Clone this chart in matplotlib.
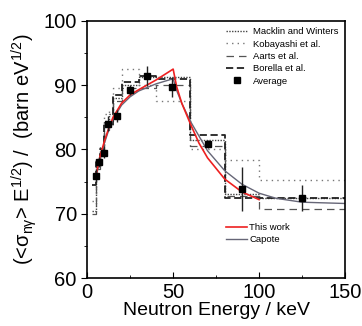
import numpy as np
import matplotlib.pyplot as plt
from matplotlib.lines import Line2D

plt.rcParams['font.family'] = ['Liberation Sans', 'DejaVu Sans']
plt.rcParams['mathtext.fontset'] = 'custom'
plt.rcParams['mathtext.rm'] = 'Liberation Sans'
plt.rcParams['mathtext.it'] = 'Liberation Sans:italic'
plt.rcParams['mathtext.default'] = 'regular'

# averaged MACS values
avg_x = [5, 7, 9.5, 12, 17.5, 25, 35, 49.5, 70, 90, 125]
avg_y = [75.9, 78.0, 79.5, 84.0, 85.2, 89.2, 91.4, 89.7, 80.9, 73.8, 72.5]
avg_err = [1.0, 0.8, 0.8, 1.2, 1.0, 0.8, 1.6, 1.6, 0.6, 3.4, 2.0]

# this work (red)
work_x = [5, 7.5, 10, 12.5, 15, 20, 25, 30, 40, 50, 52, 55, 60, 65, 70, 80, 90, 100]
work_y = [75.9, 79.0, 81.3, 83.3, 85.0, 87.2, 88.5, 89.3, 90.8, 92.5,
          89.8, 87.2, 84.0, 81.0, 78.7, 75.4, 73.4, 72.2]

# Capote (grey)
cap_x = [5, 7.5, 10, 12.5, 15, 20, 25, 30, 40, 50, 52, 55, 60, 70, 80, 90, 100, 110, 125, 150]
cap_y = [75.5, 78.6, 81.0, 83.0, 84.7, 86.9, 88.2, 89.1, 90.2, 91.0,
         89.2, 87.2, 84.4, 79.8, 76.7, 74.6, 73.2, 72.4, 71.8, 71.6]

# binned data sets
edges = [3, 5, 7.5, 10, 12.5, 15, 20, 30, 40, 60, 80, 100, 150]
macklin = [70.5, 77.5, 80.0, 84.5, 85.5, 88.0, 90.0, 91.2, 91.2, 81.5, 73.0, 72.5]
kobayashi = [72.0, 78.5, 80.5, 85.5, 86.0, 89.5, 92.5, 90.0, 87.5, 80.0, 78.4, 75.2]
aarts = [70.0, 77.0, 79.0, 83.0, 84.5, 87.5, 89.5, 89.5, 90.0, 80.5, 72.8, 70.8]
borella = [74.5, 78.0, 80.0, 84.0, 83.5, 88.5, 90.5, 91.5, 91.0, 82.3, 72.5, 72.4]

fig = plt.figure(figsize=(3.62, 3.26), dpi=100)
ax = fig.add_axes([0.241, 0.147, 0.712, 0.789])

def steps(vals):
    return list(vals) + [vals[-1]]

h1, = ax.step(edges, steps(macklin), where='post', color='#444444', lw=1.0,
              ls=(0, (1, 1)), label='Macklin and Winters')
h2, = ax.step(edges, steps(kobayashi), where='post', color='#777777', lw=1.0,
              ls=(0, (1, 3)), label='Kobayashi et al.')
h3, = ax.step(edges, steps(aarts), where='post', color='#555555', lw=0.9,
              ls=(0, (6, 4)), label='Aarts et al.')
h4, = ax.step(edges, steps(borella), where='post', color='#222222', lw=1.3,
              ls=(0, (4, 2)), label='Borella et al.')

h6, = ax.plot(cap_x, cap_y, color='#666677', lw=1.0, label='Capote')
h5, = ax.plot(work_x, work_y, color='#ee2020', lw=1.2, label='This work')

ax.errorbar(avg_x, avg_y, yerr=avg_err, fmt='none', ecolor='#222222', elinewidth=1.0)
hav, = ax.plot(avg_x, avg_y, 's', color='black', ms=5, ls='none', label='Average')

ax.set_xlim(0, 150)
ax.set_ylim(60, 100)
ax.set_xticks([0, 50, 100, 150])
ax.set_xticks([25, 75, 125], minor=True)
ax.set_yticks([60, 70, 80, 90, 100])
ax.set_yticks([65, 75, 85, 95], minor=True)
ax.tick_params(axis='x', which='both', direction='in', labelsize=14.5)
ax.tick_params(axis='y', which='both', direction='out', labelsize=14.5)
ax.tick_params(which='major', length=4)
ax.tick_params(which='minor', length=2.5)
for s in ax.spines.values():
    s.set_linewidth(1.2)

ax.set_xlabel('Neutron Energy / keV', fontsize=14, labelpad=0)
ax.set_ylabel(r'(<$\sigma_{n\gamma}$> E$^{1/2}$) /  (barn eV$^{1/2}$)', fontsize=14.5, labelpad=3)

leg1 = ax.legend(handles=[h1, h2, h3, h4, hav], loc='upper right', frameon=False,
                 fontsize=6.8, handlelength=2.2, handletextpad=0.6,
                 labelspacing=0.35, borderaxespad=0.3)
ax.add_artist(leg1)
ax.legend(handles=[h5, h6], loc='lower right', bbox_to_anchor=(0.82, 0.1),
          frameon=False, fontsize=6.8, handlelength=2.2, handletextpad=0.3,
          labelspacing=0.3)

fig.savefig('out.png', dpi=100)
